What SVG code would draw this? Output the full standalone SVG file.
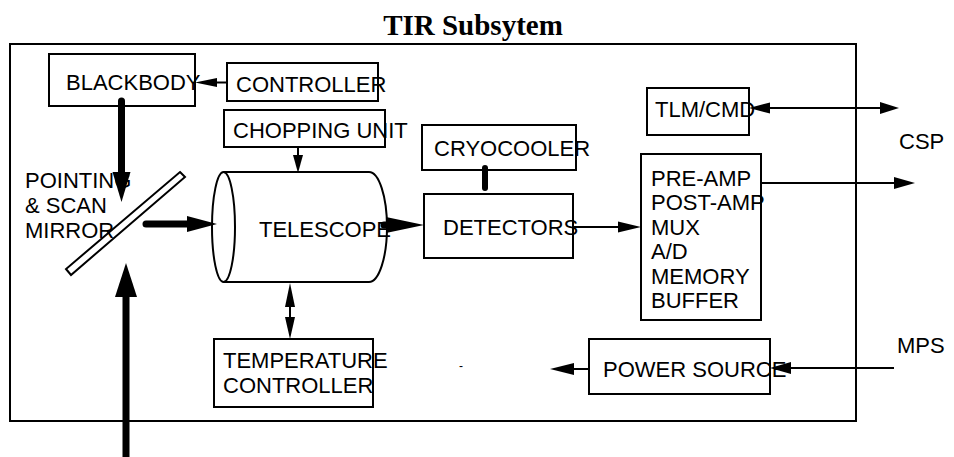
<svg xmlns="http://www.w3.org/2000/svg" width="954" height="457" viewBox="0 0 954 457">
<style>
.box{fill:#fff;stroke:#000;stroke-width:2}
.t{font-family:"Liberation Sans",Arial,sans-serif;font-size:22px;fill:#000}
.ln{stroke:#000;stroke-width:2;fill:none}
.thk{stroke:#000;stroke-width:7;stroke-linecap:round;fill:none}
.ah{fill:#000;stroke:none}
</style>
<rect width="954" height="457" fill="#fff"/>
<text x="473" y="35" text-anchor="middle" font-family="'Liberation Serif','Times New Roman',serif" font-weight="bold" font-size="29">TIR Subsytem</text>
<rect id="frame" x="10" y="44" width="846" height="377" fill="none" stroke="#000" stroke-width="2"/>

<g id="blackbody"><rect class="box" x="49" y="54" width="146" height="52"/><text class="t" x="66" y="90">BLACKBODY</text></g>
<g id="controller"><rect class="box" x="227" y="63" width="151" height="38"/><text class="t" x="236" y="92">CONTROLLER</text></g>
<g id="chopping"><rect class="box" x="224" y="110" width="161" height="37"/><text class="t" x="233" y="138">CHOPPING UNIT</text></g>
<g id="cryocooler"><rect class="box" x="422" y="125" width="154" height="45"/><text class="t" x="434" y="156">CRYOCOOLER</text></g>
<g id="detectors"><rect class="box" x="424" y="194" width="149" height="64"/><text class="t" x="443" y="235">DETECTORS</text></g>
<g id="tlmcmd"><rect class="box" x="647" y="88" width="102" height="47"/><text class="t" x="655" y="117">TLM/CMD</text></g>
<g id="preamp"><rect class="box" x="641" y="154" width="120" height="166"/>
<text class="t" x="651" y="186">PRE-AMP</text><text class="t" x="651" y="210">POST-AMP</text><text class="t" x="651" y="235">MUX</text><text class="t" x="651" y="259">A/D</text><text class="t" x="651" y="284">MEMORY</text><text class="t" x="651" y="308">BUFFER</text></g>
<g id="tempctrl"><rect class="box" x="214" y="339" width="159" height="68"/><text class="t" x="223" y="368">TEMPERATURE</text><text class="t" x="223" y="393">CONTROLLER</text></g>
<g id="powersource"><rect class="box" x="589" y="339" width="181" height="55"/><text class="t" x="603" y="377">POWER SOURCE</text></g>
<g id="telescope">
<path d="M223.5,172 L369,172 A18,55 0 0 1 369,282 L223.5,282" fill="#fff" stroke="#000" stroke-width="2"/>
<ellipse cx="223.5" cy="227" rx="11.5" ry="55" fill="#fff" stroke="#000" stroke-width="2"/>
<text class="t" x="259" y="237">TELESCOPE</text></g>
<g id="mirror"><polygon points="180,172 185,177 71,275 66,269" fill="#fff" stroke="#000" stroke-width="2"/>
<text class="t" x="25" y="188">POINTING</text><text class="t" x="25" y="213">&amp; SCAN</text><text class="t" x="25" y="238">MIRROR</text></g>
<g id="labels"><text class="t" x="899" y="149">CSP</text><text class="t" x="897" y="353">MPS</text><text x="459" y="370" font-family="'Liberation Sans',Arial,sans-serif" font-size="12">-</text></g>

<g id="connectors">
<line class="thk" x1="121.5" y1="101" x2="121.5" y2="176"/><polygon class="ah" points="112.5,172 130.5,172 121.5,202"/>
<line class="thk" x1="126" y1="460" x2="126" y2="293" stroke-linecap="butt"/><polygon class="ah" points="115,297 137,297 126,263"/>
<line class="thk" x1="146" y1="224" x2="190" y2="224"/><polygon class="ah" points="187,216 217,224 187,232"/>
<line class="thk" x1="384" y1="225" x2="394" y2="225"/><polygon class="ah" points="386,217 424,225 386,233"/>
<line class="ln" x1="227" y1="82.5" x2="212" y2="82.5"/><polygon class="ah" points="217,78 195,82.5 217,87"/>
<line class="ln" x1="298" y1="147" x2="298" y2="158"/><polygon class="ah" points="293,155 303,155 298,173"/>
<line class="ln" x1="290" y1="290" x2="290" y2="332" stroke-width="3"/><polygon class="ah" points="285,307 295,307 290,283"/><polygon class="ah" points="285,317 295,317 290,339"/>
<line x1="485" y1="168" x2="485" y2="188" stroke="#000" stroke-width="6" stroke-linecap="round"/>
<line class="ln" x1="573" y1="227" x2="622" y2="227"/><polygon class="ah" points="618,221.5 641,227 618,232.5"/>
<line class="ln" x1="765" y1="108" x2="885" y2="108"/><polygon class="ah" points="770,102.5 749,108 770,113.5"/><polygon class="ah" points="880,102 899,108 880,114"/>
<line class="ln" x1="761" y1="183" x2="898" y2="183"/><polygon class="ah" points="894,177 915,183 894,189"/>
<line class="ln" x1="894" y1="368" x2="785" y2="368"/><polygon class="ah" points="791,362 770,368 791,374"/>
<line class="ln" x1="589" y1="369" x2="568" y2="369"/><polygon class="ah" points="574,363 550,369 574,375"/>
</g>
</svg>
